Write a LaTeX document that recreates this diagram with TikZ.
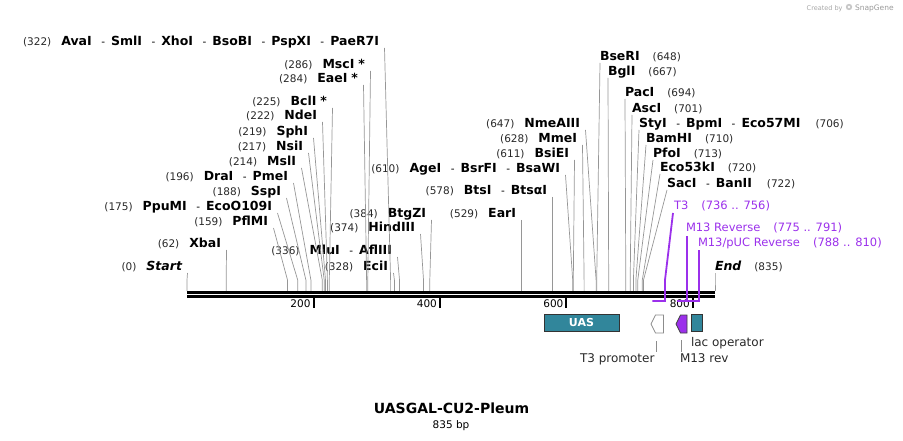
\documentclass[tikz,border=0pt]{standalone}
\usepackage{fontspec}
\setmainfont{DejaVu Sans}
\usetikzlibrary{calc}
\definecolor{featteal}{RGB}{49,134,155}
\definecolor{primc}{RGB}{155,48,235}
\definecolor{cutc}{RGB}{150,150,150}
\definecolor{numc}{RGB}{40,40,40}
\newcommand\nmb[1]{{\fontsize{10.5}{12}\selectfont\color{numc}#1}}
\newcommand\enz[1]{{\fontsize{12.5}{14}\selectfont\bfseries #1}}
\newcommand\enzi[1]{{\fontsize{12.5}{14}\selectfont\bfseries\itshape #1}}
\newcommand\sepr{\hspace{9.5pt}{\fontsize{10.5}{12}\selectfont -}\hspace{6pt}}
\newcommand\gapL{\hspace{10pt}}
\newcommand\gapR{\hspace{13pt}}
\begin{document}
\begin{tikzpicture}[x=1pt,y=-1pt,
  lab/.style={inner sep=0pt, outer sep=0pt, text height=9pt, text depth=2.5pt},
  labL/.style={lab, anchor=east},
  labR/.style={lab, anchor=west},
  cut/.style={draw=cutc, line width=0.7pt},
  prim/.style={draw=primc, line width=1.8pt},
  primlab/.style={lab, anchor=west, text=primc, font=\fontsize{11.5}{13}\selectfont},
  tickm/.style={line width=2pt},
  ticklab/.style={lab, anchor=east, font=\fontsize{10.5}{12}\selectfont},
  featlab/.style={lab, font=\fontsize{12}{14}\selectfont, text=numc},
  featbox/.style={draw=black!80, line width=0.8pt, fill=featteal}
]
\useasboundingbox (0,0) rectangle (903,441);

% ---- site coordinates (top of backbone) ----
\foreach \p/\xx in {0/187,62/226.2,159/287.5,175/297.7,188/305.9,196/310.9,214/322.3,217/324.2,219/325.5,222/327.4,225/329.3,284/366.6,286/367.8,322/390.6,328/394.4,336/399.5,374/423.5,384/429.8,529/521.5,578/552.5,610/572.7,611/573.3,628/584.1,647/596.1,648/596.7,667/608.7,694/625.8,701/630.2,706/633.4,710/635.9,713/637.8,720/642.3,722/643.5,835/715}
  \coordinate (s\p) at (\xx,291);

% ---- left-type labels ----
\node[labL] (lAva) at (379,42) {\nmb{(322)}\gapL\enz{AvaI}\sepr\enz{SmlI}\sepr\enz{XhoI}\sepr\enz{BsoBI}\sepr\enz{PspXI}\sepr\enz{PaeR7I}};
\node[labL] (lMsc) at (365,65) {\nmb{(286)}\gapL\enz{MscI\hspace{4pt}*}};
\node[labL] (lEae) at (358,79) {\nmb{(284)}\gapL\enz{EaeI\hspace{4pt}*}};
\node[labL] (lBcl) at (327,102) {\nmb{(225)}\gapL\enz{BclI\hspace{4pt}*}};
\node[labL] (lNde) at (317,116) {\nmb{(222)}\gapL\enz{NdeI}};
\node[labL] (lSph) at (308,132) {\nmb{(219)}\gapL\enz{SphI}};
\node[labL] (lNsi) at (303,147) {\nmb{(217)}\gapL\enz{NsiI}};
\node[labL] (lMsl) at (296,162) {\nmb{(214)}\gapL\enz{MslI}};
\node[labL] (lDra) at (288,177) {\nmb{(196)}\gapL\enz{DraI}\sepr\enz{PmeI}};
\node[labL] (lSsp) at (281,192) {\nmb{(188)}\gapL\enz{SspI}};
\node[labL] (lPpu) at (272,207) {\nmb{(175)}\gapL\enz{PpuMI}\sepr\enz{EcoO109I}};
\node[labL] (lPfl) at (268,222) {\nmb{(159)}\gapL\enz{PflMI}};
\node[labL] (lXba) at (221,244) {\nmb{(62)}\gapL\enz{XbaI}};
\node[labL] (lSta) at (182,267) {\nmb{(0)}\gapL\enzi{Start}};
\node[labL] (lMlu) at (392,251) {\nmb{(336)}\gapL\enz{MluI}\sepr\enz{AflIII}};
\node[labL] (lEci) at (388,267) {\nmb{(328)}\gapL\enz{EciI}};
\node[labL] (lHin) at (415,228) {\nmb{(374)}\gapL\enz{HindIII}};
\node[labL] (lBtg) at (426,214) {\nmb{(384)}\gapL\enz{BtgZI}};
\node[labL] (lEar) at (516,214) {\nmb{(529)}\gapL\enz{EarI}};
\node[labL] (lBts) at (547,191) {\nmb{(578)}\gapL\enz{BtsI}\sepr\enz{BtsαI}};
\node[labL] (lAge) at (560,169) {\nmb{(610)}\gapL\enz{AgeI}\sepr\enz{BsrFI}\sepr\enz{BsaWI}};
\node[labL] (lBsi) at (569,154) {\nmb{(611)}\gapL\enz{BsiEI}};
\node[labL] (lMme) at (577,139) {\nmb{(628)}\gapL\enz{MmeI}};
\node[labL] (lNme) at (580,124) {\nmb{(647)}\gapL\enz{NmeAIII}};

% ---- right-type labels ----
\node[labR] (lBse) at (600,57) {\enz{BseRI}\gapR\nmb{(648)}};
\node[labR] (lBgl) at (608,72) {\enz{BglI}\gapR\nmb{(667)}};
\node[labR] (lPac) at (625,93) {\enz{PacI}\gapR\nmb{(694)}};
\node[labR] (lAsc) at (632,109) {\enz{AscI}\gapR\nmb{(701)}};
\node[labR] (lSty) at (639,124) {\enz{StyI}\sepr\enz{BpmI}\sepr\enz{Eco57MI}\hspace{15pt}\nmb{(706)}};
\node[labR] (lBam) at (646,139) {\enz{BamHI}\gapR\nmb{(710)}};
\node[labR] (lPfo) at (653,154) {\enz{PfoI}\gapR\nmb{(713)}};
\node[labR] (lEco) at (660,168) {\enz{Eco53kI}\gapR\nmb{(720)}};
\node[labR] (lSac) at (667,184) {\enz{SacI}\sepr\enz{BanII}\hspace{15pt}\nmb{(722)}};
\node[labR] (lEnd) at (715,267) {\enzi{End}\gapR\nmb{(835)}};

% ---- cut-site connectors ----
\foreach \l/\s in {lAva/s322,lMsc/s286,lEae/s284,lBcl/s225,lNde/s222,lSph/s219,lNsi/s217,lMsl/s214,lDra/s196,lSsp/s188,lPpu/s175,lPfl/s159,lXba/s62,lSta/s0,lMlu/s336,lEci/s328,lHin/s374,lBtg/s384,lEar/s529,lBts/s578,lAge/s610,lBsi/s611,lMme/s628,lNme/s647}
  \draw[cut] ($(\l.east)+(5.5,6)$) -- ([yshift=11pt]\s) -- (\s);
\foreach \l/\s in {lBse/s648,lBgl/s667,lPac/s694,lAsc/s701,lSty/s706,lBam/s710,lPfo/s713,lEco/s720,lSac/s722,lEnd/s835}
  \draw[cut] ($(\l.west)+(0,6)$) -- ([yshift=11pt]\s) -- (\s);

% ---- backbone ----
\draw[line width=2.7pt] (187,292.3) -- (715,292.3);
\draw[line width=2.5pt] (187,296.3) -- (715,296.3);

% ---- ticks ----
\foreach \xx/\t in {313.5/200,439.9/400,566.4/600,692.8/800}{
  \draw[tickm] (\xx,297.5) -- (\xx,307.5);
  \node[ticklab] at (\xx-3,304) {\t};
}

% ---- primers ----
\node[primlab] (pT3) at (674,206) {T3\hspace{13pt}(736 .. 756)};
\node[primlab] (pM13) at (686,228) {M13 Reverse\hspace{13pt}(775 .. 791)};
\node[primlab] (pPUC) at (698,243) {M13/pUC Reverse\hspace{13pt}(788 .. 810)};
\coordinate (t3a) at (665,301);
\coordinate (t3b) at (652.4,301);
\coordinate (m13a) at (687.2,301);
\coordinate (m13b) at (677,301);
\coordinate (puca) at (699.2,301);
\coordinate (pucb) at (685.3,301);
\draw[prim] ($(pT3.west)+(-1,7)$) -- ([yshift=21pt]t3a) -- (t3a) -- (t3b);
\draw[prim] ($(pM13.west)+(1.2,8)$) -- (m13a) -- (m13b);
\draw[prim] ($(pPUC.west)+(1.2,7)$) -- (puca) -- (pucb);

% ---- features ----
\node[featbox, minimum width=75pt, minimum height=17pt, inner sep=0pt,
      text=white, font=\fontsize{11}{12}\selectfont\bfseries] (uas) at (581.5,322.5) {UAS};
\draw[draw=black!45, fill=white, line width=0.8pt] (651,324) -- (655.5,315) -- (663.5,315) -- (663.5,333) -- (655.5,333) -- cycle;
\coordinate (t3p) at (656.5,333);
\draw[draw=black!75, fill=primc, line width=0.8pt] (676,324) -- (680.5,315) -- (687,315) -- (687,333) -- (680.5,333) -- cycle;
\coordinate (m13p) at (681,333);
\node[featbox, minimum width=11pt, minimum height=17pt, inner sep=0pt] (lac) at (696.5,322.5) {};

\node[featlab, anchor=east] (lT3p) at (654.5,359) {T3 promoter};
\node[featlab, anchor=west] (lM13r) at (680,359) {M13 rev};
\node[featlab, anchor=west] (lLac) at (691,343) {lac operator};
\draw[draw=black!45, line width=0.8pt] ([yshift=-8pt]t3p) -- ([yshift=-19pt]t3p);
\draw[draw=black!45, line width=0.8pt] ([yshift=-7pt]m13p) -- ([yshift=-19pt]m13p);

% ---- title ----
\node[lab, font=\fontsize{14}{16}\selectfont\bfseries] (title) at (451.5,410) {UASGAL-CU2-Pleum};
\node[lab, font=\fontsize{10.5}{12}\selectfont] (bp) at (451,425.5) {835 bp};

% ---- credit ----
\node[lab, anchor=east, text=black!35, font=\fontsize{6.5}{8}\selectfont] (cr1) at (842.5,7) {Created by};
\fill[black!22] (849,7) circle (3.2pt);
\fill[white] (849,7) circle (1.4pt);
\node[lab, anchor=west, text=black!40, font=\fontsize{7.5}{9}\selectfont] (cr2) at (855,7) {SnapGene};
\end{tikzpicture}
\end{document}
